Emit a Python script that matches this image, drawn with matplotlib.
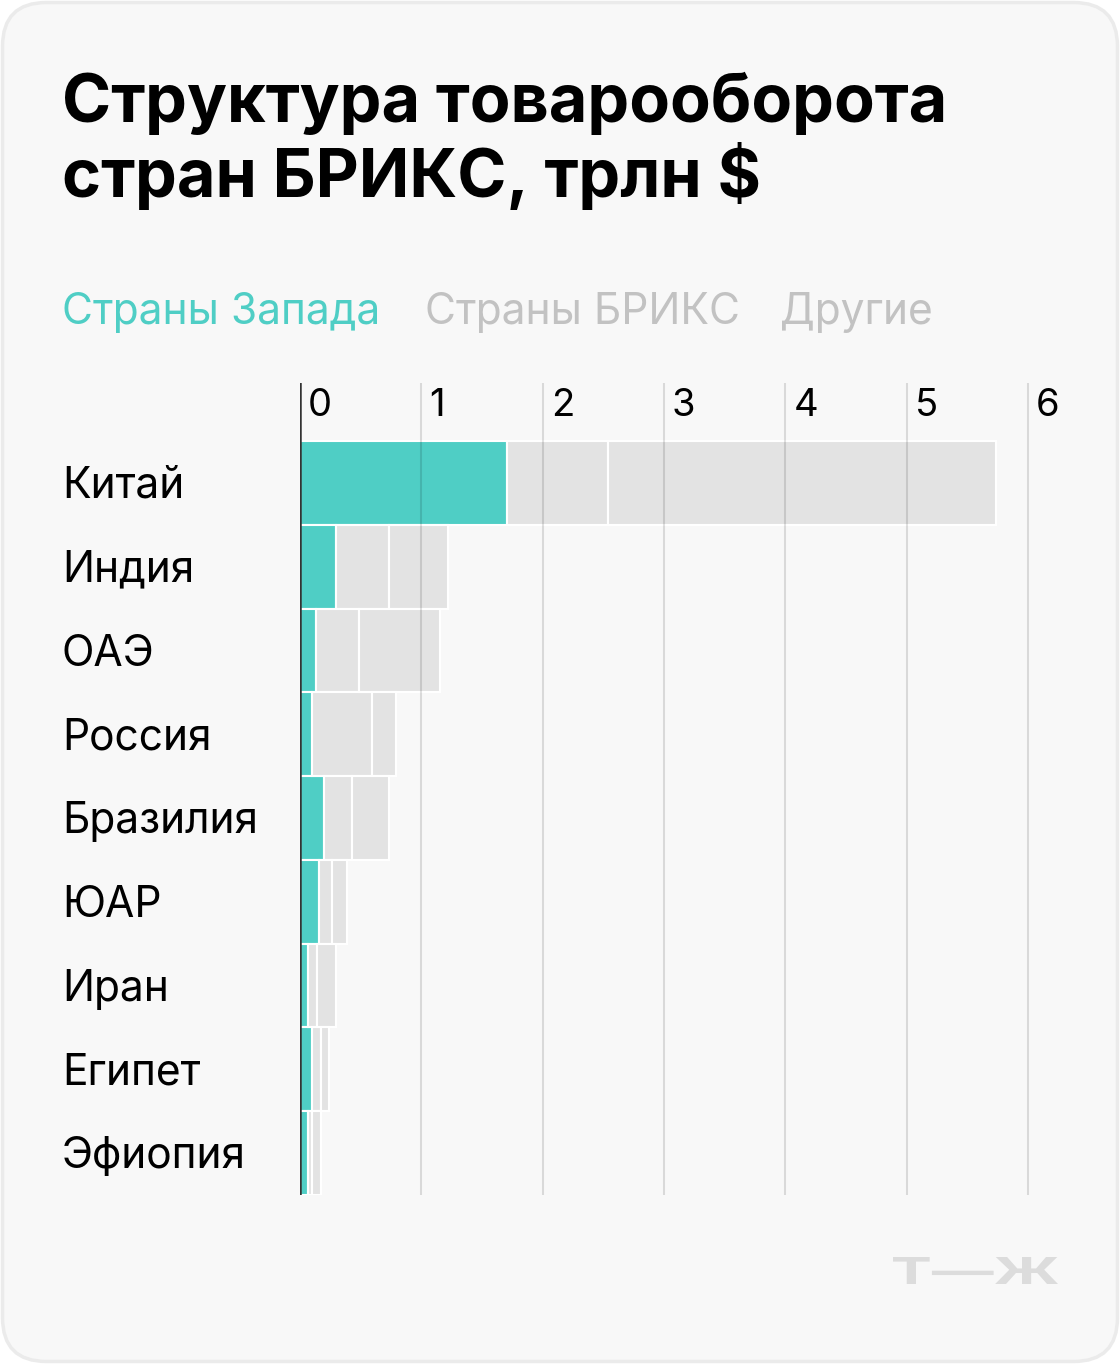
import numpy as np
import matplotlib
matplotlib.use('Agg')
import matplotlib.pyplot as plt
from matplotlib.patches import FancyBboxPatch, PathPatch
from matplotlib.textpath import TextPath
from matplotlib.font_manager import FontProperties
from matplotlib.transforms import Affine2D, offset_copy, blended_transform_factory

plt.rcParams['font.family'] = ['Inter', 'DejaVu Sans']

# data, trillion $
countries = ['Китай', 'Индия', 'ОАЭ', 'Россия', 'Бразилия', 'ЮАР', 'Иран', 'Египет', 'Эфиопия']
west = [1.71, 0.30, 0.13, 0.10, 0.20, 0.16, 0.07, 0.10, 0.07]
brics = [0.83, 0.43, 0.36, 0.49, 0.23, 0.10, 0.07, 0.07, 0.03]
other = [3.20, 0.49, 0.66, 0.20, 0.30, 0.13, 0.16, 0.07, 0.07]
xticks = [0, 1, 2, 3, 4, 5, 6]
legend_labels = ['Страны Запада', 'Страны БРИКС', 'Другие']

TEAL = '#4fcec5'
GREY = '#e3e3e3'
BG = '#f8f8f8'

W, H = 1120, 1364
fig = plt.figure(figsize=(W / 100, H / 100), dpi=100, facecolor='white')

# background card in pixel coords
bg = fig.add_axes([0, 0, 1, 1])
bg.set_xlim(0, W)
bg.set_ylim(H, 0)
bg.axis('off')
bg.add_patch(FancyBboxPatch((2.5, 2.5), W - 5, H - 5,
                            boxstyle='round,pad=0,rounding_size=44',
                            facecolor=BG, edgecolor='#ebebeb', lw=2.5))

# title
bg.text(62, 122, 'Структура товарооборота', fontsize=47.9, fontweight='bold',
        color='black', va='baseline')
bg.text(62, 197, 'стран БРИКС, трлн $', fontsize=47.9, fontweight='bold',
        color='black', va='baseline')

# legend
leg_x = [62, 425, 780]
leg_c = [TEAL, '#c2c2c2', '#c2c2c2']
for lx, lab, c in zip(leg_x, legend_labels, leg_c):
    bg.text(lx, 324, lab, fontsize=30.6, color=c, va='baseline')

# main chart
ax = fig.add_axes([300 / W, 1 - 1195 / H, 760 / W, (1195 - 383) / H])
ax.patch.set_visible(False)
px_per_unit = 121.33
row = (1195 - 441) / 9
ax.set_xlim(0, 760 / px_per_unit)
ytop = -0.5 - (441 - 383) / row
ax.set_ylim(8.5, ytop)
for s in ax.spines.values():
    s.set_visible(False)
ax.set_xticks([])
ax.set_yticks([])

y = np.arange(len(countries))
west = np.array(west)
brics = np.array(brics)
other = np.array(other)
kw = dict(height=1.0, edgecolor='white', linewidth=1.5, zorder=2)
ax.barh(y, west, color=TEAL, **kw)
ax.barh(y, brics, left=west, color=GREY, **kw)
ax.barh(y, other, left=west + brics, color=GREY, **kw)

for v in xticks[1:]:
    ax.axvline(v, color='black', alpha=0.12, lw=1.5, zorder=4)
ax.axvline(0, color='#333333', lw=1.8, zorder=5)

tick_tr = offset_copy(ax.transData, fig, x=8, y=0, units='dots')
tick_y = ytop + (416 - 383) / row
for v in xticks:
    ax.text(v, tick_y, str(v), fontsize=27.5, color='black', va='baseline',
            ha='left', transform=tick_tr)

lab_tr = blended_transform_factory(bg.transData, ax.transData)
for i, name in enumerate(countries):
    ax.text(62, i + 0.18, name, fontsize=30.6, color='black', va='baseline',
            ha='left', transform=lab_tr)

# logo
tp = TextPath((0, 0), 'Т—Ж', size=40, prop=FontProperties(family='Inter', weight='bold'))
ext = tp.get_extents()
sx = (1058 - 893) / ext.width
sy = (1284 - 1257) / ext.height
tr = Affine2D().translate(-ext.x0, -ext.y0).scale(sx, -sy).translate(893, 1284)
bg.add_patch(PathPatch(tr.transform_path(tp), facecolor='#dcdcdc', edgecolor='none'))

fig.savefig('out.png', dpi=100, facecolor='white')
